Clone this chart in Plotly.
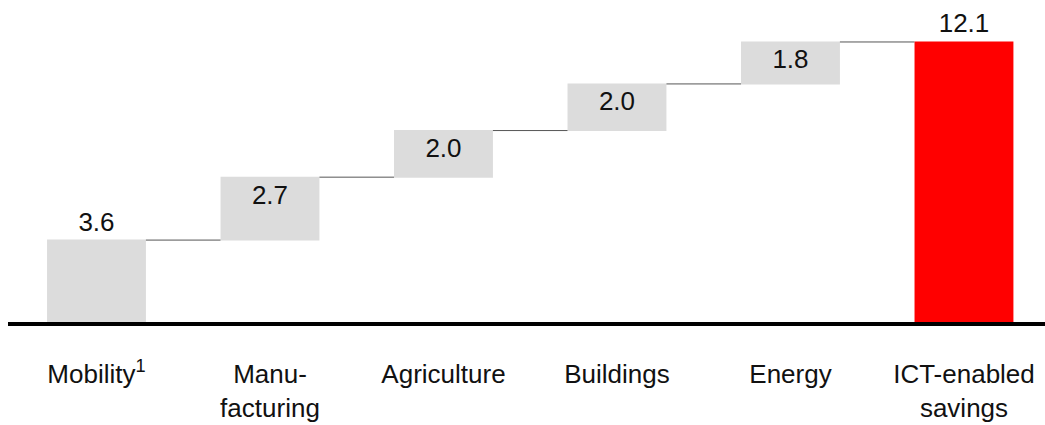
import plotly.graph_objects as go

# ICT-enabled savings by sector, stacked into a total
categories = ["Mobility<sup>1</sup>", "Manu-<br>facturing", "Agriculture",
              "Buildings", "Energy", "ICT-enabled<br>savings"]
savings = [3.6, 2.7, 2.0, 2.0, 1.8, 12.1]
measures = ["relative", "relative", "relative", "relative", "relative", "total"]
label_pos = ["outside", "inside", "inside", "inside", "inside", "outside"]

x_pos = list(range(len(categories)))
FONT = "Liberation Sans, Arial, sans-serif"

fig = go.Figure(go.Waterfall(
    x=x_pos,
    y=savings,
    measure=measures,
    text=[f"{v:.1f}" for v in savings],
    textposition=label_pos,
    textfont=dict(family=FONT, size=26, color="#111111"),
    constraintext="none",
    cliponaxis=False,
    increasing=dict(marker=dict(color="#dcdcdc", line=dict(width=0))),
    totals=dict(marker=dict(color="#ff0000", line=dict(width=0))),
    connector=dict(line=dict(color="#555555", width=1)),
    width=[0.57] * len(categories),
))

fig.update_layout(
    width=1045, height=425,
    margin=dict(l=8, r=0, t=21, b=101),
    paper_bgcolor="white", plot_bgcolor="white",
    showlegend=False,
    font=dict(family=FONT, size=26, color="#111111"),
    xaxis=dict(
        range=[-0.51, 5.467],
        tickmode="array", tickvals=x_pos, ticktext=categories,
        showgrid=False, zeroline=False, showline=False,
        ticks="", ticklabelstandoff=32,
        tickfont=dict(family=FONT, size=26, color="#111111"),
    ),
    yaxis=dict(range=[0, 13], visible=False, showgrid=False, zeroline=False),
    shapes=[dict(type="line", xref="paper", yref="paper", x0=0, x1=1, y0=0, y1=0,
                 line=dict(color="black", width=4))],
)

fig.write_html("out.html")
